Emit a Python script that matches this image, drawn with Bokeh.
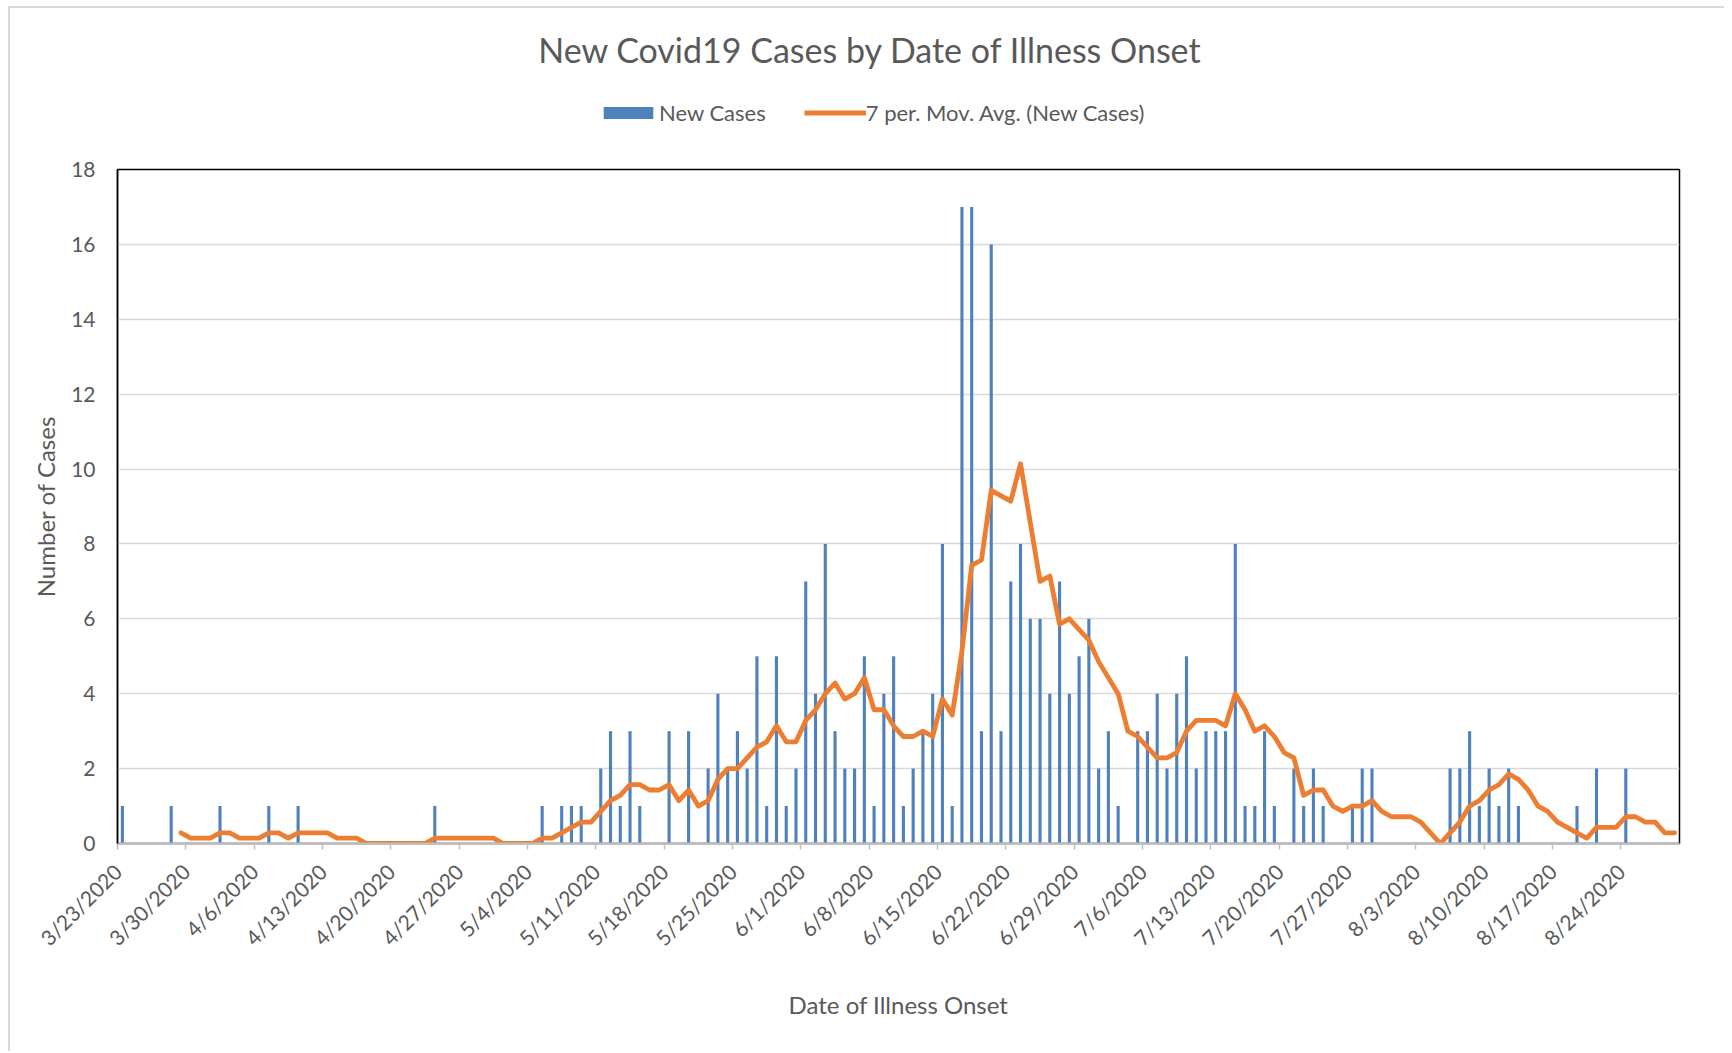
import math
import numpy as np
import pandas as pd
from bokeh.plotting import figure
from bokeh.layouts import column
from bokeh.models import FixedTicker, Legend, LegendItem, ColumnDataSource, Range1d, Label
from bokeh.embed import file_html
from bokeh.resources import INLINE

# ---------------- data ----------------
chart_title = "New Covid19 Cases by Date of Illness Onset"
start_date = "2020-03-23"
new_cases = [
    1, 0, 0, 0, 0, 1, 0, 0, 0, 0,
    1, 0, 0, 0, 0, 1, 0, 0, 1, 0,
    0, 0, 0, 0, 0, 0, 0, 0, 0, 0,
    0, 0, 1, 0, 0, 0, 0, 0, 0, 0,
    0, 0, 0, 1, 0, 1, 1, 1, 0, 2,
    3, 1, 3, 1, 0, 0, 3, 0, 3, 0,
    2, 4, 2, 3, 2, 5, 1, 5, 1, 2,
    7, 4, 8, 3, 2, 2, 5, 1, 4, 5,
    1, 2, 3, 4, 8, 1, 17, 17, 3, 16,
    3, 7, 8, 6, 6, 4, 7, 4, 5, 6,
    2, 3, 1, 0, 3, 3, 4, 2, 4, 5,
    2, 3, 3, 3, 8, 1, 1, 3, 1, 0,
    2, 1, 2, 1, 0, 0, 1, 2, 2, 0,
    0, 0, 0, 0, 0, 0, 2, 2, 3, 1,
    2, 1, 2, 1, 0, 0, 0, 0, 0, 1,
    0, 2, 0, 0, 2, 0, 0, 0, 0, 0,
]
tick_labels = [
    "3/23/2020", "3/30/2020", "4/6/2020", "4/13/2020", "4/20/2020", "4/27/2020",
    "5/4/2020", "5/11/2020", "5/18/2020", "5/25/2020", "6/1/2020", "6/8/2020",
    "6/15/2020", "6/22/2020", "6/29/2020", "7/6/2020", "7/13/2020", "7/20/2020",
    "7/27/2020", "8/3/2020", "8/10/2020", "8/17/2020", "8/24/2020",
]
y_ticks = [0, 2, 4, 6, 8, 10, 12, 14, 16, 18]
series_names = ["New Cases", "7 per. Mov. Avg. (New Cases)"]

onset_dates = pd.date_range(start_date, periods=len(new_cases), freq="D")
day_index = (onset_dates - onset_dates[0]).days.to_numpy()
x_center = day_index + 0.5
mov_avg = pd.Series(new_cases, dtype=float).rolling(7).mean()
tick_days = [int((t - onset_dates[0]).days) for t in
             pd.to_datetime(tick_labels, format="%m/%d/%Y")]

bar_src = ColumnDataSource(dict(x=x_center, cases=new_cases))
ma_src = ColumnDataSource(dict(x=x_center[6:], ma=mov_avg.to_numpy()[6:]))

TEXT = "#595959"
FONT = "Lato"
BLUE = "#4f81bd"
ORANGE = "#ed7d31"

# page offset of the chart area (css margin + border)
OFF_X, OFF_Y = 10, 8
LEFT, RIGHT = 117 - OFF_X, 45
FRAME_W, FRAME_H = 1562, 674
HEAD_H = 142

# ---------------- header: title + legend ----------------
head = figure(frame_width=FRAME_W, frame_height=HEAD_H,
              min_border_left=LEFT, min_border_right=RIGHT,
              min_border_top=0, min_border_bottom=0,
              x_range=Range1d(LEFT, LEFT + FRAME_W), y_range=Range1d(0, HEAD_H),
              x_axis_location=None, y_axis_location=None,
              toolbar_location=None, output_backend="svg", title=None)
head.outline_line_color = None
head.xgrid.visible = False
head.ygrid.visible = False

head.add_layout(Label(x=870 - OFF_X, y=HEAD_H - 41, text=chart_title, text_align="center",
                      text_baseline="middle", text_font=FONT, text_font_size="34px",
                      text_color=TEXT))

leg_bar = head.vbar(x=[-1000], top=[1], width=1, fill_color=BLUE, line_color=None)
leg_line = head.line(x=[-1000, -999], y=[1, 1], line_color=ORANGE, line_width=5)
legend = Legend(
    items=[LegendItem(label=series_names[0], renderers=[leg_bar]),
           LegendItem(label=series_names[1], renderers=[leg_line])],
    orientation="horizontal", location=(597 - 117, 24),
    padding=0, margin=0, spacing=38,
    glyph_width=62, glyph_height=15, label_height=20, label_standoff=0,
    label_text_font=FONT, label_text_font_size="22px", label_text_color=TEXT,
    border_line_color=None, background_fill_alpha=0,
)
head.add_layout(legend, "center")

# ---------------- main chart ----------------
p = figure(
    frame_width=FRAME_W, frame_height=FRAME_H,
    min_border_left=LEFT, min_border_right=RIGHT,
    min_border_top=19, min_border_bottom=208,
    x_range=Range1d(0, len(new_cases)), y_range=Range1d(0, 18),
    output_backend="svg", toolbar_location=None, title=None,
)

p.vbar(x="x", top="cases", width=0.32, source=bar_src, fill_color=BLUE, line_color=None)
p.line(x="x", y="ma", source=ma_src, line_color=ORANGE, line_width=4.8,
       line_join="round", line_cap="round")

p.xgrid.visible = False
p.ygrid.ticker = FixedTicker(ticks=y_ticks)
p.ygrid.grid_line_color = "#d9d9d9"
p.ygrid.grid_line_width = 1.5
p.outline_line_color = "black"
p.outline_line_width = 1.5

# y axis
p.yaxis.ticker = FixedTicker(ticks=y_ticks)
p.yaxis.axis_label = "Number of Cases"
p.yaxis.axis_label_text_font = FONT
p.yaxis.axis_label_text_font_size = "24px"
p.yaxis.axis_label_text_font_style = "normal"
p.yaxis.axis_label_text_color = TEXT
p.yaxis.axis_label_standoff = 8
p.yaxis.major_label_text_font = FONT
p.yaxis.major_label_text_font_size = "21px"
p.yaxis.major_label_text_color = TEXT
p.yaxis.major_label_standoff = 16
p.yaxis.major_tick_line_color = None
p.yaxis.minor_tick_line_color = None
p.yaxis.axis_line_color = "black"
p.yaxis.axis_line_width = 1.5

# x axis
p.xaxis.ticker = FixedTicker(ticks=tick_days)
p.xaxis.major_label_overrides = {d: lab for d, lab in zip(tick_days, tick_labels)}
p.xaxis.major_label_orientation = math.pi / 4
p.xaxis.axis_label = "Date of Illness Onset"
p.xaxis.axis_label_text_font = FONT
p.xaxis.axis_label_text_font_size = "24px"
p.xaxis.axis_label_text_font_style = "normal"
p.xaxis.axis_label_text_color = TEXT
p.xaxis.axis_label_standoff = 28
p.xaxis.major_label_text_font = FONT
p.xaxis.major_label_text_font_size = "21px"
p.xaxis.major_label_text_color = TEXT
p.xaxis.major_label_standoff = 18
p.xaxis.major_tick_in = 0
p.xaxis.major_tick_out = 6
p.xaxis.major_tick_line_color = "#bfbfbf"
p.xaxis.major_tick_line_width = 1.5
p.xaxis.minor_tick_line_color = None
p.xaxis.axis_line_color = "#bfbfbf"
p.xaxis.axis_line_width = 2

layout = column(head, p, spacing=0,
                styles={"margin-left": "8px", "margin-top": "6px",
                        "border-left": "2px solid #d9d9d9",
                        "border-top": "2px solid #d9d9d9"})
open("out.html", "w").write(file_html(layout, INLINE))
